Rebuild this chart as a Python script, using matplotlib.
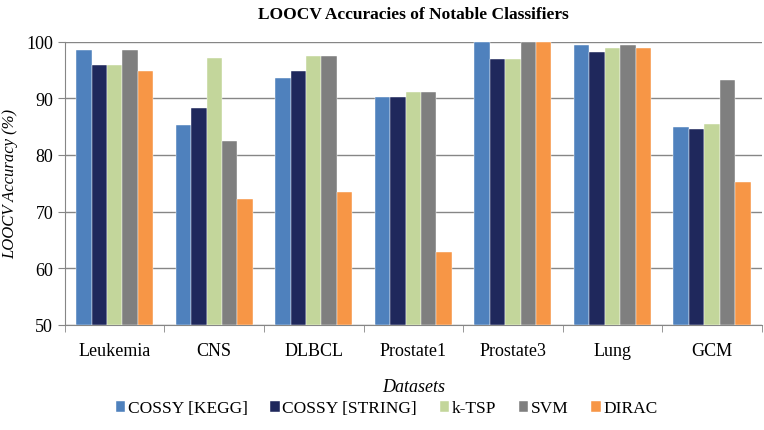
import matplotlib
matplotlib.use("Agg")
import matplotlib.pyplot as plt
import numpy as np

# data
datasets = ["Leukemia", "CNS", "DLBCL", "Prostate1", "Prostate3", "Lung", "GCM"]
cossy_kegg = [98.6, 85.3, 93.5, 90.2, 100.0, 99.5, 85.0]
cossy_string = [95.8, 88.2, 94.8, 90.2, 97.0, 98.2, 84.6]
ktsp = [95.8, 97.1, 97.4, 91.2, 97.0, 98.9, 85.4]
svm = [98.6, 82.4, 97.4, 91.2, 100.0, 99.5, 93.2]
dirac = [94.8, 72.3, 73.4, 62.9, 100.0, 98.8, 75.2]

series = [
    ("COSSY [KEGG]", cossy_kegg, "#4F81BD"),
    ("COSSY [STRING]", cossy_string, "#1F285C"),
    ("k-TSP", ktsp, "#C3D69B"),
    ("SVM", svm, "#7F7F7F"),
    ("DIRAC", dirac, "#F79646"),
]

plt.rcParams["font.family"] = ["Liberation Serif", "DejaVu Serif"]

fig = plt.figure(figsize=(7.64, 4.31), dpi=100)
ax = fig.add_axes([0.085, 0.244, 0.912, 0.657])

x = np.arange(len(datasets))
w = 0.155
for i, (name, vals, col) in enumerate(series):
    ax.bar(x + (i - 2) * w, np.array(vals) - 50, w, bottom=50, color=col,
           label=name, zorder=3, edgecolor="white", linewidth=0.3)

ax.set_xlim(-0.5, len(datasets) - 0.5)
ax.set_ylim(50, 100)
ax.set_yticks(range(50, 101, 10))
ax.yaxis.grid(True, color="#868686", linewidth=1.0, zorder=0)

ax.set_xticks(x)
ax.set_xticklabels(datasets, fontsize=13)
ax.set_xticks(np.arange(-0.5, len(datasets)), minor=True)
ax.tick_params(axis="x", which="major", length=0, pad=12)
ax.tick_params(axis="x", which="minor", length=5, color="#868686", direction="out")
ax.tick_params(axis="y", labelsize=13, length=5, color="#868686", direction="out")

for s in ["top", "right"]:
    ax.spines[s].set_visible(False)
for s in ["left", "bottom"]:
    ax.spines[s].set_color("#868686")

ax.set_title("LOOCV Accuracies of Notable Classifiers", fontsize=12.5,
             fontweight="bold", pad=17)
ax.set_ylabel("LOOCV Accuracy (%)", fontsize=12, style="italic", labelpad=6)
ax.set_xlabel("Datasets", fontsize=13, style="italic", labelpad=14)

handles, labels = ax.get_legend_handles_labels()
fig.legend(handles, labels, loc="center", bbox_to_anchor=(0.506, 0.05), ncol=5,
           frameon=False, fontsize=12.5, handlelength=0.55, handleheight=0.55,
           handletextpad=0.15, columnspacing=1.3)

fig.savefig("out.png", dpi=100)
